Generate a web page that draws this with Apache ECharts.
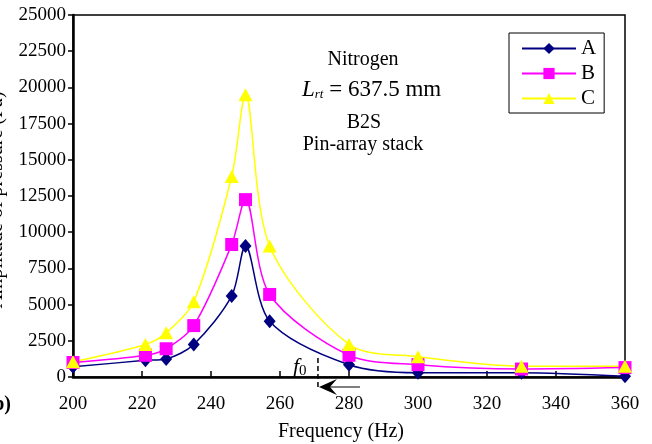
<!DOCTYPE html>
<html>
<head>
<meta charset="utf-8">
<script src="https://cdn.jsdelivr.net/npm/echarts@6/dist/echarts.min.js"></script>
<style>html,body{margin:0;padding:0;background:#fff}#c{width:652px;height:444px}</style>
</head>
<body>
<div id="c"></div>
<script>
var frequencies = [200, 221, 227, 235, 246, 250, 257, 280, 300, 330, 360];
var seriesA = [700, 1150, 1250, 2250, 5600, 9050, 3850, 850, 300, 300, 50];
var seriesB = [1000, 1500, 1950, 3550, 9150, 12250, 5700, 1500, 850, 550, 650];
var seriesC = [1050, 2250, 3050, 5200, 13850, 19500, 9050, 2250, 1400, 750, 750];
var seriesNames = ['A', 'B', 'C'];
var f0Frequency = 271;

var FONT = 'Liberation Serif';
function pairs(vals) { return frequencies.map(function (f, i) { return [f, vals[i]]; }); }

var chart = echarts.init(document.getElementById('c'), null, {renderer: 'canvas'});
var option = {
  animation: false,
  backgroundColor: '#fff',
  grid: {left: 73, right: 27, top: 15, bottom: 67, show: true, borderColor: '#000', borderWidth: 1.5, outerBoundsMode: 'none'},
  xAxis: {
    type: 'value', min: 200, max: 360, interval: 20,
    axisLine: {show: true, lineStyle: {color: '#000', width: 2.5}},
    axisTick: {show: true, inside: true, length: 6, lineStyle: {color: '#000', width: 1.5}},
    axisLabel: {color: '#000', fontFamily: FONT, fontSize: 19, margin: 18},
    splitLine: {show: false}
  },
  yAxis: {
    type: 'value', min: 0, max: 25000, interval: 2500,
    axisLine: {show: true, lineStyle: {color: '#000', width: 2.5}},
    axisTick: {show: true, inside: false, length: 5, lineStyle: {color: '#000', width: 1.5}},
    axisLabel: {color: '#000', fontFamily: FONT, fontSize: 19, margin: 7, formatter: function (v) { return String(v); }},
    splitLine: {show: false}
  },
  legend: {
    orient: 'vertical', left: 509, top: 33,
    padding: [5, 8, 4, 12], itemGap: 4, itemWidth: 54, itemHeight: 14,
    borderColor: '#000', borderWidth: 1, backgroundColor: '#fff',
    textStyle: {color: '#000', fontFamily: FONT, fontSize: 21, lineHeight: 19},
    data: seriesNames
  },
  series: [
    {name: seriesNames[0], type: 'line', data: pairs(seriesA), smooth: 0.3, symbol: 'diamond', symbolSize: [12, 14],
      lineStyle: {color: '#000080', width: 1.5}, itemStyle: {color: '#000080'}},
    {name: seriesNames[1], type: 'line', data: pairs(seriesB), smooth: 0.3, symbol: 'rect', symbolSize: 13,
      lineStyle: {color: '#ff00ff', width: 1.5}, itemStyle: {color: '#ff00ff'}},
    {name: seriesNames[2], type: 'line', data: pairs(seriesC), smooth: 0.3, symbol: 'triangle', symbolSize: [14, 13],
      lineStyle: {color: '#ffff00', width: 1.5}, itemStyle: {color: '#ffff00'}}
  ]
};
chart.setOption(option);

var p0 = chart.convertToPixel({gridIndex: 0}, [f0Frequency, 0]);
var fx = p0[0], fy = p0[1];
chart.setOption({
  graphic: [
    {type: 'text', x: -3, y: 200, rotation: Math.PI / 2,
      style: {text: 'Amplitude of pressure (Pa)', font: '20px "' + FONT + '"', fill: '#000', align: 'center', verticalAlign: 'middle'}},
    {type: 'text', x: 341, y: 432,
      style: {text: 'Frequency (Hz)', font: '20px "' + FONT + '"', fill: '#000', align: 'center', verticalAlign: 'middle'}},
    {type: 'text', x: 11, y: 405,
      style: {text: '(b)', font: 'bold 20px "' + FONT + '"', fill: '#000', align: 'right', verticalAlign: 'middle'}},
    {type: 'text', x: 363, y: 60,
      style: {text: 'Nitrogen', font: '20px "' + FONT + '"', fill: '#000', align: 'center', verticalAlign: 'middle'}},
    {type: 'text', x: 302, y: 90,
      style: {
        rich: {
          L: {fontFamily: FONT, fontSize: 23, fontStyle: 'italic', fill: '#000'},
          s: {fontFamily: FONT, fontSize: 13, fontStyle: 'italic', fill: '#000', padding: [10, 0, 0, 0]},
          t: {fontFamily: FONT, fontSize: 23, fill: '#000'}
        },
        text: '{L|L}{s|rt}{t| = 637.5 mm}', align: 'left', verticalAlign: 'middle'
      }},
    {type: 'text', x: 364, y: 123,
      style: {text: 'B2S', font: '20px "' + FONT + '"', fill: '#000', align: 'center', verticalAlign: 'middle'}},
    {type: 'text', x: 363, y: 145,
      style: {text: 'Pin-array stack', font: '20px "' + FONT + '"', fill: '#000', align: 'center', verticalAlign: 'middle'}},
    {type: 'line', shape: {x1: fx, y1: fy - 19, x2: fx, y2: fy + 13},
      style: {stroke: '#000', lineWidth: 1.5, lineDash: [5, 3]}},
    {type: 'text', x: fx - 25, y: fy - 10,
      style: {
        rich: {
          f: {fontFamily: FONT, fontSize: 22, fontStyle: 'italic', fill: '#000'},
          z: {fontFamily: FONT, fontSize: 15, fill: '#000', padding: [8, 0, 0, 0]}
        },
        text: '{f|f}{z|0}', align: 'left', verticalAlign: 'middle'
      }},
    {type: 'line', shape: {x1: fx + 8, y1: fy + 10, x2: fx + 42, y2: fy + 10},
      style: {stroke: '#555', lineWidth: 1.5}},
    {type: 'polygon', shape: {points: [[fx + 1, fy + 10], [fx + 19, fy + 2], [fx + 12, fy + 10], [fx + 19, fy + 18]]},
      style: {fill: '#000'}}
  ]
});
</script>
</body>
</html>
